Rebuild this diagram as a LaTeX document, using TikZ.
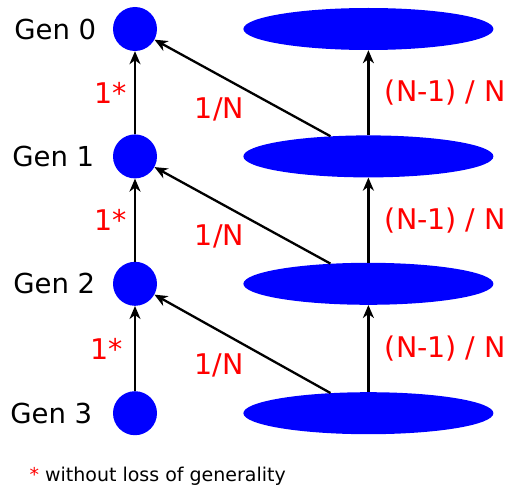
\documentclass[tikz,border=0pt]{standalone}
\usepackage{fontspec}
\setmainfont{DejaVu Sans}
\usetikzlibrary{positioning,shapes.geometric,arrows.meta}

\begin{document}
\begin{tikzpicture}[node distance=83pt,
  gen/.style={circle, fill=blue, minimum size=44pt, inner sep=0pt},
  pool/.style={ellipse, fill=blue, minimum width=250pt, minimum height=42pt, inner sep=0pt},
  lbl/.style={font=\fontsize{27.5}{32}\selectfont},
  rate/.style={text=red, font=\fontsize{28.5}{34}\selectfont},
  link/.style={line width=2.3pt, -{Stealth[length=13pt, width=11pt, inset=4pt]}}]
  \useasboundingbox (0,0) rectangle (509pt,-487pt);
  % individuals
  \node[gen] (g0) at (135pt,-29pt) {};
  \node[gen, below=of g0] (g1) {};
  \node[gen, below=of g1] (g2) {};
  \node[gen, below=85pt of g2] (g3) {};
  % rest of the population
  \node[pool, right=86pt of g0] (p0) {};
  \node[pool, right=86pt of g1] (p1) {};
  \node[pool, right=86pt of g2] (p2) {};
  \node[pool, right=86pt of g3] (p3) {};
  % generation labels
  \node[lbl, left=13pt of g0] (n0) {Gen 0};
  \node[lbl, left=15pt of g1] (n1) {Gen 1};
  \node[lbl, left=14pt of g2] (n2) {Gen 2};
  \node[lbl, left=17pt of g3] (n3) {Gen 3};
  % descent
  \draw[link] (g1) -- node[rate, left=4pt] {1*} (g0);
  \draw[link] (g2) -- node[rate, left=4pt] {1*} (g1);
  \draw[link] (g3) -- node[rate, left=8pt] {1*} (g2);
  \draw[link] (p1.152) -- node[rate, below left=5pt and -6pt] {1/N} (g0);
  \draw[link] (p2.152) -- node[rate, below left=5pt and -6pt] {1/N} (g1);
  \draw[link] (p3.152) -- node[rate, below left=5pt and -6pt] {1/N} (g2);
  \draw[link] (p1) -- node[rate, right=12pt] {(N-1) / N} (p0);
  \draw[link] (p2) -- node[rate, right=12pt] {(N-1) / N} (p1);
  \draw[link] (p3) -- node[rate, right=12pt] {(N-1) / N} (p2);
  % footnote
  \node[font=\fontsize{19}{22}\selectfont, anchor=west] (fn) at (26pt,-476pt) {\textcolor{red}{*} without loss of generality};
\end{tikzpicture}
\end{document}
